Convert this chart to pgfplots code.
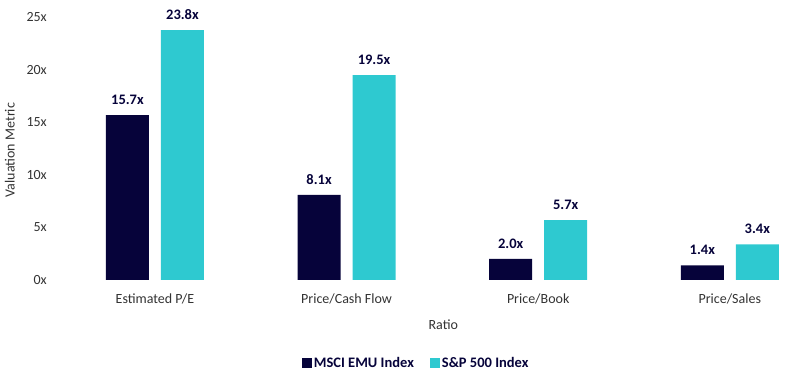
\documentclass[border=0pt]{standalone}
\usepackage{pgfplots}
\pgfplotsset{compat=1.18}
\usepackage{fontspec}
\setmainfont{Carlito}
\definecolor{navy}{HTML}{06033A}
\definecolor{teal}{HTML}{2EC9D0}
\definecolor{txt}{HTML}{333333}
\begin{document}
\begin{tikzpicture}[x=1pt,y=1pt]
\path[use as bounding box] (0,0) rectangle (788,379);
\begin{axis}[
  at={(55.3pt,99pt)}, anchor=south west,
  scale only axis, width=732pt, height=262.5pt,
  xmin=-0.52, xmax=3.3, ymin=0, ymax=25,
  clip=false,
  /pgf/number format/assume math mode=true,
  axis line style={draw=none}, tick style={draw=none},
  ybar, bar width=43pt,
  xtick={0,1,2,3},
  xticklabels={Estimated P/E, Price/Cash Flow, Price/Book, Price/Sales},
  ytick={0,5,10,15,20,25},
  yticklabels={0x,5x,10x,15x,20x,25x},
  ticklabel style={font=\fontsize{14}{16}\selectfont, text=txt},
  yticklabel style={xshift=-5pt},
  xticklabel style={yshift=-6pt},
  xlabel={Ratio},
  xlabel style={at={(axis description cs:0.53,-0.171)}, anchor=center, font=\fontsize{14}{16}\selectfont, text=txt},
  ylabel={Valuation Metric},
  ylabel style={at={(axis description cs:-0.062,0.495)}, anchor=center, rotate=0, font=\fontsize{14}{16}\selectfont, text=txt},
  nodes near coords={\pgfmathprintnumber[fixed,fixed zerofill,precision=1,assume math mode=true]{\pgfplotspointmeta}x},
  nodes near coords style={font=\bfseries\fontsize{14.5}{16}\selectfont, text=navy, yshift=7pt},
  legend style={at={(axis description cs:0.493,-0.316)}, anchor=center, draw=none, legend columns=2,
    font=\bfseries\fontsize{14.5}{16}\selectfont, text=navy,
    /tikz/every even column/.append style={column sep=14pt}},
  legend image code/.code={\fill[#1] (0pt,-5pt) rectangle (10pt,5pt);},
]
\addplot[fill=navy, draw=none, bar shift=-27.5pt] coordinates {(0,15.7) (1,8.1) (2,2.0) (3,1.4)};
\addplot[fill=teal, draw=none, bar shift=27.5pt] coordinates {(0,23.8) (1,19.5) (2,5.7) (3,3.4)};
\legend{MSCI EMU Index, S\&P 500 Index}
\end{axis}
\end{tikzpicture}
\end{document}
